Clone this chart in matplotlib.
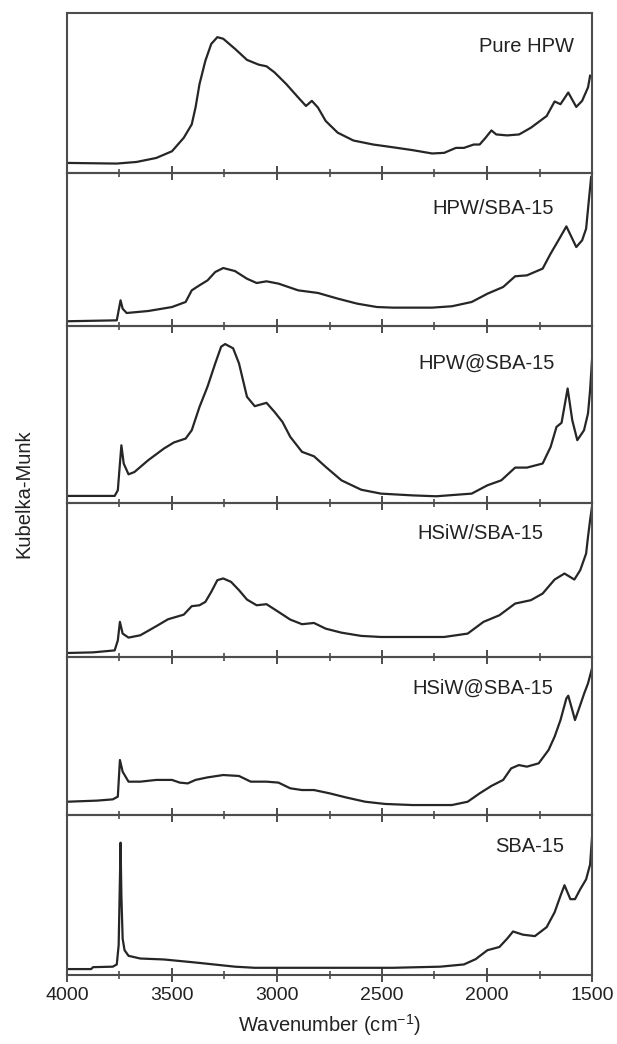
import matplotlib
matplotlib.use("Agg")
import matplotlib.pyplot as plt
from matplotlib.ticker import MultipleLocator

plt.rcParams["font.family"] = ["Liberation Sans", "DejaVu Sans"]
plt.rcParams["mathtext.fontset"] = "custom"
plt.rcParams["mathtext.rm"] = "Liberation Sans"

# spectra, intensity as fraction of each panel height
pure_hpw_wn = [4000, 3763, 3669, 3575, 3500, 3444, 3406, 3388, 3369, 3341, 3313, 3284,
               3256, 3200, 3143, 3087, 3050, 3012, 2956, 2899, 2862, 2834, 2805, 2768,
               2711, 2636, 2542, 2449, 2355, 2261, 2204, 2148, 2110, 2063, 2035, 2007,
               1979, 1956, 1904, 1847, 1791, 1716, 1678, 1650, 1613, 1575, 1547, 1519, 1509]
pure_hpw_km = [0.063, 0.059, 0.069, 0.094, 0.136, 0.220, 0.304, 0.409, 0.556, 0.702, 0.807, 0.849,
               0.839, 0.776, 0.707, 0.677, 0.667, 0.629, 0.556, 0.472, 0.419, 0.451, 0.409, 0.325,
               0.252, 0.203, 0.178, 0.161, 0.143, 0.122, 0.126, 0.157, 0.157, 0.178, 0.178, 0.220,
               0.266, 0.241, 0.235, 0.241, 0.283, 0.356, 0.447, 0.430, 0.503, 0.413, 0.451, 0.535, 0.608]

hpw_sba_wn = [4000, 3763, 3754, 3745, 3735, 3716, 3613, 3500, 3435, 3406, 3369, 3331, 3294,
              3256, 3200, 3143, 3097, 3050, 2993, 2899, 2805, 2711, 2618, 2524, 2449, 2261,
              2167, 2073, 1998, 1923, 1866, 1810, 1735, 1697, 1660, 1622, 1594, 1575, 1547,
              1528, 1515, 1504]
hpw_sba_km = [0.031, 0.037, 0.102, 0.168, 0.113, 0.085, 0.098, 0.124, 0.157, 0.233, 0.266, 0.298, 0.353,
              0.379, 0.359, 0.309, 0.281, 0.292, 0.277, 0.233, 0.216, 0.179, 0.146, 0.124, 0.120, 0.120,
              0.129, 0.157, 0.211, 0.255, 0.325, 0.331, 0.375, 0.473, 0.560, 0.651, 0.571, 0.516, 0.560,
              0.636, 0.821, 0.974]

hpw_at_sba_wn = [4000, 3773, 3758, 3748, 3741, 3730, 3707, 3679, 3613, 3538, 3491, 3435, 3406,
                 3369, 3331, 3294, 3266, 3247, 3209, 3181, 3143, 3106, 3050, 3012, 2974, 2937,
                 2881, 2824, 2768, 2693, 2599, 2505, 2355, 2242, 2073, 1998, 1932, 1866, 1810,
                 1735, 1697, 1669, 1645, 1616, 1594, 1570, 1538, 1519, 1509, 1500]
hpw_at_sba_km = [0.040, 0.040, 0.072, 0.223, 0.326, 0.223, 0.162, 0.175, 0.242, 0.308, 0.342, 0.364, 0.411,
                 0.543, 0.657, 0.789, 0.883, 0.898, 0.874, 0.789, 0.600, 0.547, 0.566, 0.515, 0.458, 0.374,
                 0.289, 0.264, 0.204, 0.128, 0.075, 0.053, 0.043, 0.038, 0.053, 0.100, 0.128, 0.200, 0.200,
                 0.223, 0.317, 0.430, 0.453, 0.647, 0.468, 0.355, 0.411, 0.506, 0.638, 0.808]

hsiw_sba_wn = [4000, 3876, 3773, 3758, 3748, 3735, 3707, 3651, 3575, 3519, 3444, 3406, 3369,
               3341, 3313, 3284, 3256, 3219, 3181, 3143, 3097, 3050, 2993, 2937, 2881, 2824,
               2768, 2693, 2599, 2505, 2355, 2204, 2092, 2017, 1941, 1866, 1791, 1735, 1678,
               1631, 1584, 1556, 1528, 1519, 1509, 1500]
hsiw_sba_km = [0.026, 0.030, 0.043, 0.108, 0.228, 0.152, 0.126, 0.141, 0.200, 0.245, 0.275, 0.330, 0.336,
               0.358, 0.423, 0.499, 0.510, 0.488, 0.434, 0.373, 0.336, 0.343, 0.293, 0.243, 0.213, 0.221,
               0.184, 0.158, 0.137, 0.130, 0.130, 0.130, 0.152, 0.228, 0.271, 0.347, 0.369, 0.412, 0.503,
               0.542, 0.503, 0.564, 0.672, 0.781, 0.889, 0.976]

hsiw_at_sba_wn = [4000, 3857, 3782, 3758, 3748, 3735, 3707, 3651, 3575, 3500, 3463, 3425, 3388,
                  3331, 3256, 3181, 3125, 3050, 2993, 2937, 2881, 2824, 2749, 2674, 2580, 2486,
                  2355, 2167, 2092, 2035, 1979, 1923, 1885, 1848, 1810, 1754, 1707, 1678, 1650,
                  1622, 1613, 1594, 1581, 1556, 1537, 1519, 1500]
hsiw_at_sba_km = [0.084, 0.091, 0.099, 0.116, 0.348, 0.274, 0.211, 0.211, 0.222, 0.222, 0.205, 0.200, 0.222,
                  0.238, 0.253, 0.247, 0.211, 0.211, 0.205, 0.169, 0.158, 0.158, 0.137, 0.112, 0.084, 0.070,
                  0.063, 0.063, 0.084, 0.137, 0.184, 0.222, 0.295, 0.316, 0.306, 0.327, 0.411, 0.496, 0.601,
                  0.738, 0.755, 0.665, 0.601, 0.696, 0.770, 0.833, 0.928]

sba_wn = [4000, 3885, 3876, 3782, 3763, 3754, 3748, 3745, 3741, 3735, 3726, 3707, 3651,
          3538, 3388, 3200, 3106, 2824, 2449, 2223, 2110, 2054, 1998, 1941, 1904, 1876,
          1829, 1772, 1716, 1678, 1650, 1631, 1603, 1581, 1556, 1528, 1509, 1500]
sba_km = [0.037, 0.037, 0.049, 0.052, 0.066, 0.186, 0.598, 0.827, 0.495, 0.227, 0.155, 0.120, 0.103,
          0.097, 0.078, 0.052, 0.045, 0.045, 0.045, 0.052, 0.066, 0.099, 0.155, 0.175, 0.227, 0.272,
          0.252, 0.243, 0.299, 0.392, 0.495, 0.561, 0.474, 0.474, 0.536, 0.598, 0.691, 0.858]

sample_names = ["Pure HPW", "HPW/SBA-15", "HPW@SBA-15", "HSiW/SBA-15", "HSiW@SBA-15", "SBA-15"]
spectra = [
    (pure_hpw_wn, pure_hpw_km),
    (hpw_sba_wn, hpw_sba_km),
    (hpw_at_sba_wn, hpw_at_sba_km),
    (hsiw_sba_wn, hsiw_sba_km),
    (hsiw_at_sba_wn, hsiw_at_sba_km),
    (sba_wn, sba_km),
]

# where each sample name sits (wavenumber, panel fraction)
LABEL_POS = [(1810, 0.79), (1970, 0.77), (2000, 0.79), (2033, 0.80), (2020, 0.80), (1796, 0.80)]
PANEL_HEIGHTS = [160, 153, 177, 154, 158, 160]

LINE_COLOR = "#262626"
FRAME_COLOR = "#4d4d4d"

fig = plt.figure(figsize=(6.17, 10.44), dpi=100)
gs = fig.add_gridspec(len(spectra), 1, height_ratios=PANEL_HEIGHTS, hspace=0,
                      left=67 / 617, right=592 / 617, top=1 - 13 / 1044, bottom=1 - 975 / 1044)

axes = []
for i, ((wn, km), name) in enumerate(zip(spectra, sample_names)):
    ax = fig.add_subplot(gs[i], sharex=axes[0] if axes else None)
    ax.patch.set_alpha(0)
    ax.plot(wn, km, color=LINE_COLOR, lw=1.6, solid_joinstyle="round")
    ax.set_ylim(0, 1)
    ax.set_yticks([])
    for spine in ax.spines.values():
        spine.set_color(FRAME_COLOR)
        spine.set_linewidth(1.5)
    ax.xaxis.set_major_locator(MultipleLocator(500))
    ax.xaxis.set_minor_locator(MultipleLocator(250))
    ax.tick_params(axis="x", which="major", direction="inout", length=10, width=1.4,
                   color=FRAME_COLOR, labelsize=14, labelcolor="#222222", pad=4)
    ax.tick_params(axis="x", which="minor", direction="inout", length=6, width=1.2,
                   color=FRAME_COLOR)
    if i < len(spectra) - 1:
        ax.tick_params(axis="x", labelbottom=False)
    lx, ly = LABEL_POS[i]
    ax.text(lx, ly, name, transform=ax.get_xaxis_transform(), ha="center", va="center",
            fontsize=14.5, color="#222222")
    axes.append(ax)

axes[0].set_xlim(4000, 1500)
axes[-1].set_xticks([4000, 3500, 3000, 2500, 2000, 1500])

fig.text(23.5 / 617, 1 - 494 / 1044, "Kubelka-Munk", rotation=90, ha="center", va="center",
         fontsize=14.5, color="#222222")
fig.text((67 + 592) / 2 / 617, 1 - 1025 / 1044, "Wavenumber (cm$^{-1}$)", ha="center",
         va="center", fontsize=14.5, color="#222222")

fig.savefig("out.png", dpi=100)
